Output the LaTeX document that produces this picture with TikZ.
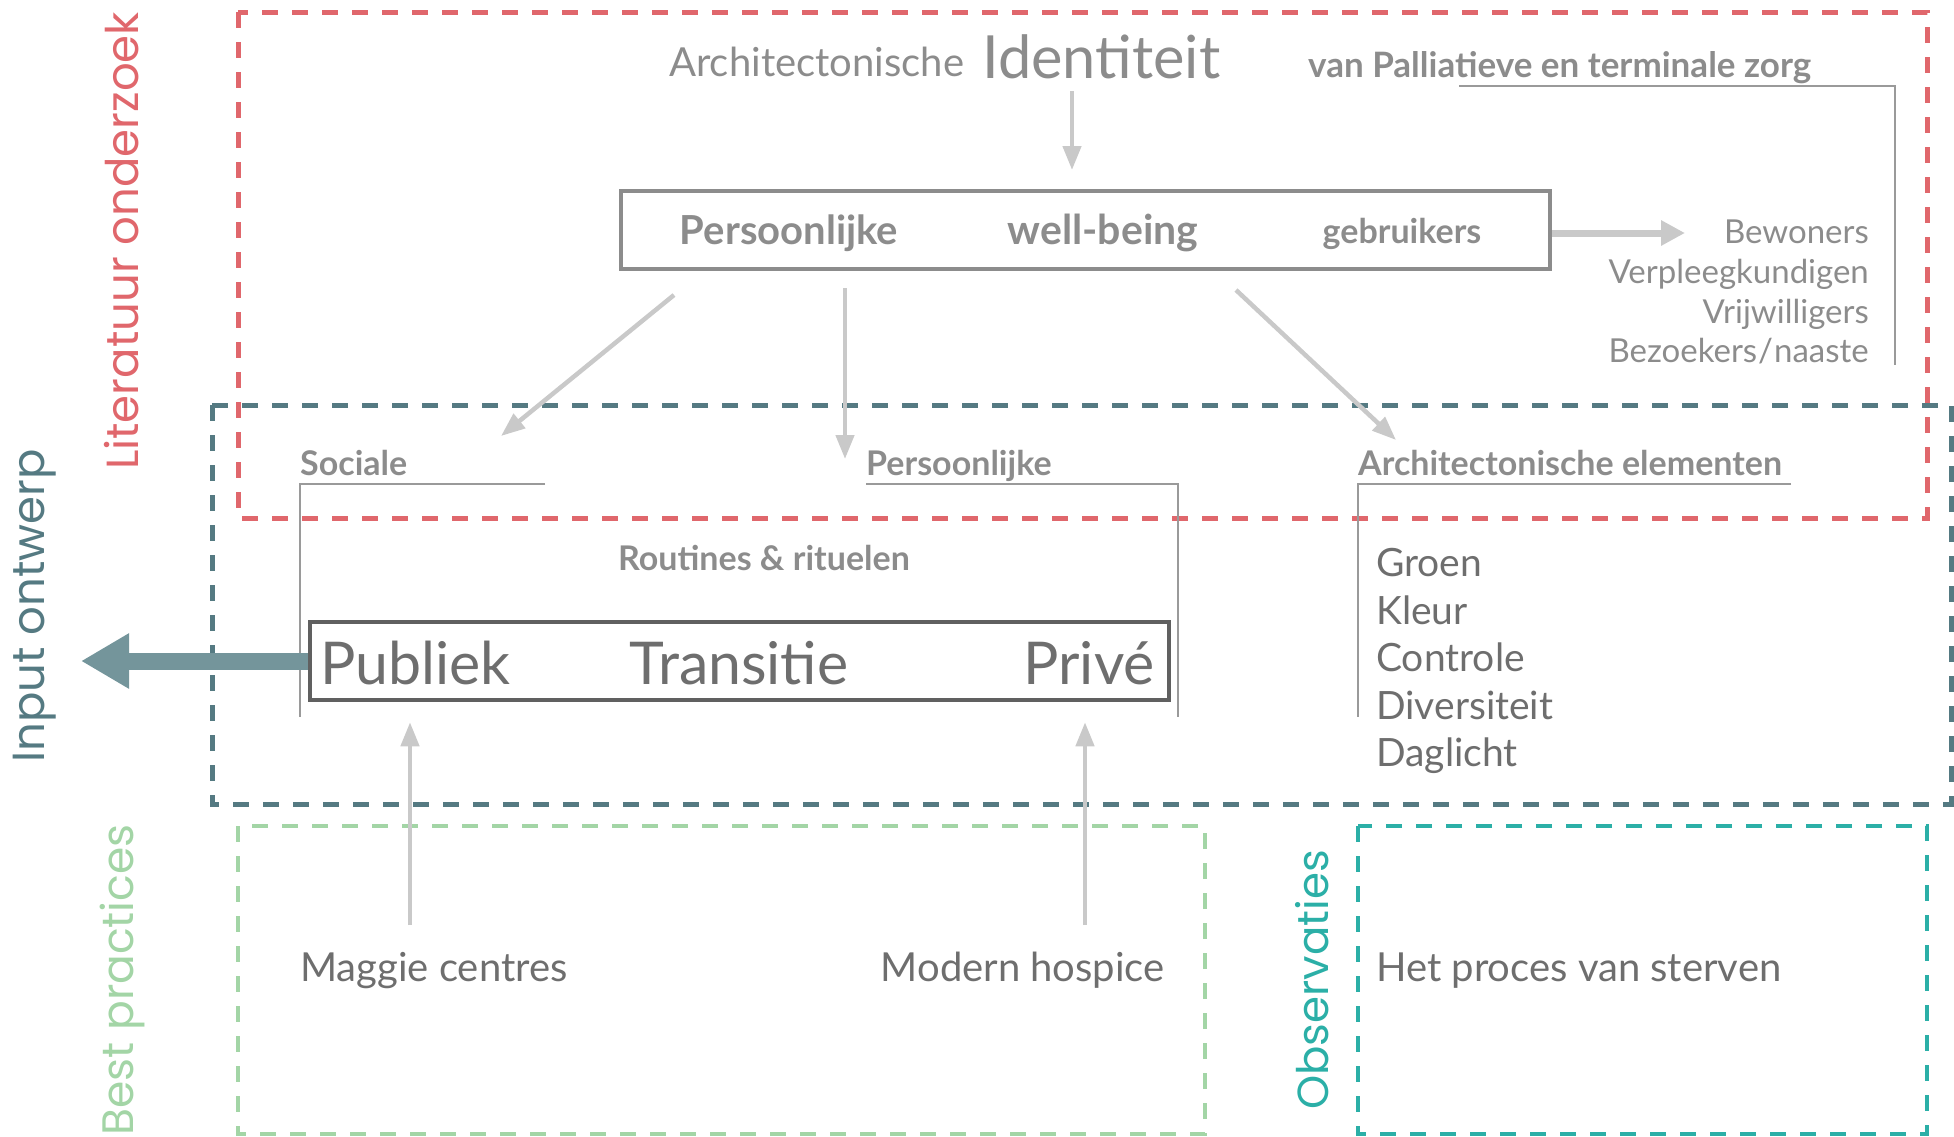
\documentclass[tikz,border=0pt]{standalone}
\usepackage{fontspec}
\setmainfont{Lato}
\newfontfamily\geo{Poppins}
\usetikzlibrary{arrows.meta,calc}
\definecolor{litred}{HTML}{E0676C}
\definecolor{slate}{HTML}{557A82}
\definecolor{slatearrow}{HTML}{74959B}
\definecolor{bpgreen}{HTML}{A3D5A6}
\definecolor{obscyan}{HTML}{2BAFA7}
\definecolor{txtlight}{HTML}{8C8C8C}
\definecolor{txtdark}{HTML}{6E6E6E}
\definecolor{arrgray}{HTML}{C9C9C9}
\definecolor{linegray}{HTML}{9A9A9A}
\definecolor{boxgray}{HTML}{8C8C8C}
\definecolor{boxdark}{HTML}{606060}
\begin{document}
\begin{tikzpicture}[x=1pt,y=-1pt,
  frame/.style={line width=5pt, dash pattern=on 16pt off 14pt},
  thin/.style={draw=linegray, line width=1.5pt},
  garrow/.style={draw=arrgray, line width=4.5pt, -{Triangle[length=24pt,width=18pt]}},
  lbl/.style={inner sep=0pt, text=txtlight, font=\fontsize{34}{36}\selectfont\bfseries},
  item/.style={inner sep=0pt, text=txtdark, font=\fontsize{39}{41}\selectfont},
  side/.style={inner sep=0pt, rotate=90, font=\geo\fontsize{45}{47}\selectfont},
]
\useasboundingbox (0,0) rectangle (1954,1136);
% frames
\draw[frame, slate] (212,405) rectangle (1951,804);
\draw[frame, litred] (238,12) rectangle (1927,518);
\draw[frame, bpgreen, line width=4pt] (238,826) rectangle (1205,1134);
\draw[frame, obscyan, line width=4pt] (1358,826) rectangle (1927,1134);

% side labels
\node[side, text=litred] (lit) at (122,241) {Literatuur onderzoek};
\node[side, text=slate] (inp) at (35,606) {Input ontwerp};
\node[side, text=bpgreen, font=\geo\fontsize{44}{46}\selectfont] (bp) at (122,980) {Best practices};
\node[side, text=obscyan, font=\geo\fontsize{43.5}{46}\selectfont] (obs) at (1312,980) {Observaties};

% top
\node[inner sep=0pt, anchor=base west, text=txtlight, font=\fontsize{40}{42}\selectfont] (arch) at (669,76) {Architectonische};
\node[inner sep=0pt, anchor=base west, text=txtlight, font=\fontsize{59.5}{62}\selectfont] (ident) at (982,78) {Identiteit};
\node[inner sep=0pt, anchor=base west, text=txtlight, font=\fontsize{35}{37}\selectfont\bfseries] (pall) at (1308,77) {van Palliatieve en terminale zorg};
\coordinate (pl1) at (1459,86);
\coordinate (pl2) at (1895,86);
\coordinate (pl3) at (1895,365);
\draw[thin] (pl1) -- (pl2) -- (pl3);

% well-being box
\node[draw=boxgray, line width=4pt, minimum width=929pt, minimum height=78pt, inner sep=0pt] (pwb) at (1085.5,230) {};
\coordinate (idtop) at (1072,91);
\draw[garrow] (idtop) -- ($(idtop |- pwb.north)+(0,-19)$);
\node[lbl, anchor=base, font=\fontsize{40}{42}\selectfont\bfseries] (pers1) at (789,244) {Persoonlijke};
\node[lbl, anchor=base, font=\fontsize{41}{43}\selectfont\bfseries] (wb) at (1103,244) {well-being};
\node[lbl, anchor=base] (geb) at (1402,243) {gebruikers};

% users list
\node[item, anchor=base east, text=txtlight, font=\fontsize{33}{35}\selectfont] (bew) at (1869,243) {Bewoners};
\node[item, anchor=base east, text=txtlight, font=\fontsize{33}{35}\selectfont] (ver) at (1869,283) {Verpleegkundigen};
\node[item, anchor=base east, text=txtlight, font=\fontsize{33}{35}\selectfont] (vri) at (1869,323) {Vrijwilligers};
\node[item, anchor=base east, text=txtlight, font=\fontsize{33}{35}\selectfont] (bez) at (1869,362) {Bezoekers\kern1pt/\kern1pt naaste};
\coordinate (usr) at (1685,233);
\draw[draw=arrgray, line width=7pt, -{Triangle[length=24pt,width=24pt]}] (pwb.east |- usr) -- (usr);

% three headings
\node[lbl, anchor=base west] (soc) at (300,475) {Sociale};
\node[lbl, anchor=base west] (pers2) at (866,475) {Persoonlijke};
\node[lbl, anchor=base west] (arel) at (1358,475) {Architectonische elementen};
\coordinate (a1s) at (674,295); \coordinate (a1e) at (501,436);
\coordinate (a2s) at (845,288); \coordinate (a2e) at (845,459);
\coordinate (a3s) at (1236,290); \coordinate (a3e) at (1396,440);
\draw[garrow] (a1s) -- (a1e);
\draw[garrow] (a2s) -- (a2e);
\draw[garrow] (a3s) -- (a3e);

\coordinate (s1) at (545,484); \coordinate (s2) at (300,484); \coordinate (s3) at (300,717);
\draw[thin] (s1) -- (s2) -- (s3);
\coordinate (p1) at (866,484); \coordinate (p2) at (1178,484); \coordinate (p3) at (1178,717);
\draw[thin] (p1) -- (p2) -- (p3);
\coordinate (e1) at (1791,484); \coordinate (e2) at (1358,484); \coordinate (e3) at (1358,717);
\draw[thin] (e1) -- (e2) -- (e3);

\node[lbl, anchor=base] (rout) at (764,570) {Routines \& rituelen};

% Publiek box
\node[draw=boxdark, line width=4.5pt, minimum width=859pt, minimum height=78pt, inner sep=0pt] (ptp) at (739.5,661) {};
\node[item, anchor=base west, font=\fontsize{59}{61}\selectfont] (pub) at (320,684) {Publiek};
\node[item, anchor=base, font=\fontsize{59}{61}\selectfont] (tra) at (739,684) {Transitie};
\node[item, anchor=base east, font=\fontsize{59}{61}\selectfont] (pri) at (1155,684) {Privé};
\coordinate (inpt) at (81,661);
\draw[draw=slatearrow, line width=17pt, -{Triangle[length=48pt,width=52pt]}] (ptp.west) -- (inpt);

% elements list
\node[item, anchor=base west] (gro) at (1376,576) {Groen};
\node[item, anchor=base west] (kle) at (1376,624) {Kleur};
\node[item, anchor=base west] (con) at (1376,671) {Controle};
\node[item, anchor=base west] (div) at (1376,719) {Diversiteit};
\node[item, anchor=base west] (dag) at (1376,766) {Daglicht};

% bottom
\node[item, anchor=base west, font=\fontsize{40}{42}\selectfont] (mag) at (300,981) {Maggie centres};
\node[item, anchor=base east, font=\fontsize{40}{42}\selectfont] (mod) at (1165,981) {Modern hospice};
\node[item, anchor=base west, font=\fontsize{40}{42}\selectfont] (het) at (1376,981) {Het proces van sterven};
\coordinate (u1) at (410,925); \coordinate (u2) at (1085,925);
\draw[garrow] (u1) -- ($(u1 |- ptp.south)+(0,20)$);
\draw[garrow] (u2) -- ($(u2 |- ptp.south)+(0,20)$);
\end{tikzpicture}
\end{document}
